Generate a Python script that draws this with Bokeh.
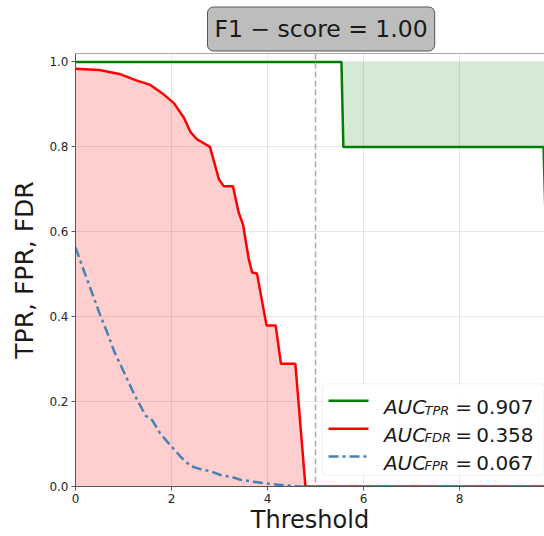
from bokeh.plotting import figure
from bokeh.models import (Range1d, FixedTicker, NumeralTickFormatter, Span, Label,
                          BoxAnnotation, Arrow)
from bokeh.embed import file_html
from bokeh.resources import INLINE

# ---- data ----
thr_tpr = [0.0, 5.54, 5.58, 9.75, 9.80, 10.2]
tpr = [1.0, 1.0, 0.8, 0.8, 0.6, 0.6]

thr_fdr = [0.0, 0.50, 0.94, 1.28, 1.56, 1.81, 2.05, 2.26, 2.40, 2.53, 2.80, 2.99,
           3.09, 3.28, 3.40, 3.49, 3.61, 3.68, 3.78, 3.98, 4.17, 4.28, 4.58, 4.79, 10.2]
fdr = [0.984, 0.981, 0.971, 0.956, 0.946, 0.926, 0.903, 0.868, 0.834, 0.818, 0.800, 0.723,
       0.707, 0.707, 0.645, 0.617, 0.535, 0.504, 0.502, 0.379, 0.379, 0.289, 0.289, 0.0, 0.0]

thr_fpr = [0.0, 0.24, 0.52, 0.66, 0.80, 1.01, 1.22, 1.46, 1.60, 1.77, 1.98, 2.19, 2.40,
           2.60, 2.81, 3.02, 3.23, 3.44, 3.71, 3.99, 4.34, 4.69, 10.2]
fpr = [0.563, 0.488, 0.402, 0.363, 0.320, 0.269, 0.218, 0.167, 0.156, 0.124, 0.097, 0.070,
       0.048, 0.041, 0.036, 0.027, 0.023, 0.016, 0.011, 0.007, 0.003, 0.0, 0.0]

best_threshold = 5.0
title_text = "F1 \u2212 score = 1.00"
legend_names = ["TPR", "FDR", "FPR"]
legend_values = ["0.907", "0.358", "0.067"]
x_ticks = [0, 2, 4, 6, 8]
y_ticks = [0.0, 0.2, 0.4, 0.6, 0.8, 1.0]

FONT = "DejaVu Sans"
GREEN, RED, BLUE = "#008000", "#ff0000", "#4682b4"
SPINE = "#555555"

p = figure(width=544, height=536, x_range=Range1d(0, 9.77), y_range=Range1d(0, 1.02),
           output_backend="svg", toolbar_location=None,
           min_border_left=75, min_border_right=0, min_border_top=53, min_border_bottom=48)
p.outline_line_color = None
p.background_fill_color = "white"
p.border_fill_color = "white"

# title in a rounded grey box
p.title.text = title_text
p.title.align = "left"
p.title.offset = 132
p.title.text_font = FONT
p.title.text_font_size = "23.5px"
p.title.text_font_style = "normal"
p.title.text_color = "#1a1a1a"
p.title.background_fill_color = "#bdbdbd"
p.title.border_line_color = "#555555"
p.title.border_line_width = 1
p.title.padding = [7, 8]
p.title.border_radius = 6
p.title.standoff = 5

for ax in (p.xaxis[0], p.yaxis[0]):
    ax.axis_line_color = SPINE
    ax.axis_line_width = 1
    ax.major_tick_line_color = SPINE
    ax.major_tick_out = 4
    ax.major_tick_in = 0
    ax.minor_tick_out = 0
    ax.minor_tick_in = 0
    ax.major_label_text_font = FONT
    ax.major_label_text_font_size = "12px"
    ax.major_label_text_color = "#262626"
    ax.major_label_standoff = 3
    ax.axis_label_text_font = FONT
    ax.axis_label_text_font_style = "normal"
    ax.axis_label_text_color = "#1a1a1a"

p.xaxis.ticker = FixedTicker(ticks=x_ticks)
p.yaxis.ticker = FixedTicker(ticks=y_ticks)
p.yaxis.formatter = NumeralTickFormatter(format="0.0")
p.xaxis.axis_label = "Threshold"
p.xaxis.axis_label_text_font_size = "24px"
p.xaxis.axis_label_standoff = 0
p.yaxis.axis_label = "TPR, FPR, FDR"
p.yaxis.axis_label_text_font_size = "25px"
p.yaxis.axis_label_standoff = 7

for g in (p.xgrid[0], p.ygrid[0]):
    g.grid_line_color = "#b0b0b0"
    g.grid_line_alpha = 0.3
    g.grid_line_width = 1

# top spine
p.add_layout(Span(location=1.02, dimension="width", line_color=SPINE, line_width=1))

# fills
p.varea(x=thr_tpr, y1=tpr, y2=[1.0] * len(tpr), fill_color=GREEN, fill_alpha=0.17)
p.varea(x=thr_fdr, y1=[0.0] * len(fdr), y2=fdr, fill_color=RED, fill_alpha=0.19)

# best threshold line
p.add_layout(Span(location=best_threshold, dimension="height", line_color="#aaaaaa",
                  line_width=1.5, line_dash="6 3"))

# curves
p.line(thr_tpr, tpr, line_color=GREEN, line_width=2.5)
p.line(thr_fdr, fdr, line_color=RED, line_width=2.5)
p.line(thr_fpr, fpr, line_color=BLUE, line_width=2.5, line_dash="10 4 3 4")

# manual legend
p.add_layout(BoxAnnotation(left=5.146, right=9.76, bottom=0.0258, top=0.2418,
                           fill_color="white", fill_alpha=0.85, line_color="#cccccc",
                           line_width=1, border_radius=4))
row_y = [0.2019, 0.1362, 0.0704]
colors = [GREEN, RED, BLUE]
dashes = ["solid", "solid", "10 4 3 4"]
for i in range(3):
    yc = row_y[i]
    yb = yc - 0.0148
    p.add_layout(Arrow(end=None, x_start=5.271, x_end=6.104, y_start=yc, y_end=yc,
                       line_color=colors[i], line_width=2.5, line_dash=dashes[i]))
    p.add_layout(Label(x=6.424, y=yb, text="AUC", text_font=FONT, text_font_style="italic",
                       text_font_size="20px", text_color="#1a1a1a",
                       text_baseline="alphabetic", text_align="left"))
    p.add_layout(Label(x=7.27, y=yb - 0.007, text=legend_names[i], text_font=FONT,
                       text_font_style="italic", text_font_size="13px",
                       text_color="#1a1a1a", text_baseline="alphabetic", text_align="left"))
    p.add_layout(Label(x=7.91, y=yb, text="=", text_font=FONT,
                       text_font_size="20px", text_color="#1a1a1a",
                       text_baseline="alphabetic", text_align="left"))
    p.add_layout(Label(x=9.542, y=yb, text=legend_values[i], text_font=FONT,
                       text_font_size="20px", text_color="#1a1a1a",
                       text_baseline="alphabetic", text_align="right"))

open("out.html", "w").write(file_html(p, INLINE))
